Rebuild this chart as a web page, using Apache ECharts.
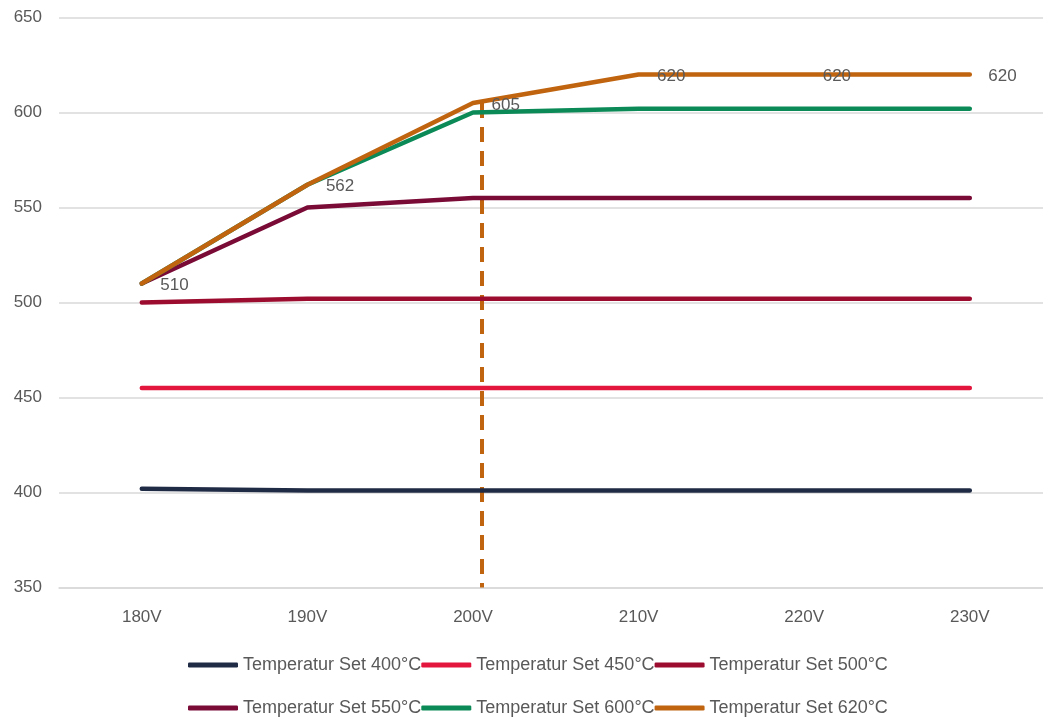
<!DOCTYPE html>
<html>
<head>
<meta charset="utf-8">
<script src="https://cdn.jsdelivr.net/npm/echarts@6/dist/echarts.min.js"></script>
<style>html,body{margin:0;padding:0;background:#fff;}#c{width:1043px;height:719px;}</style>
</head>
<body>
<div id="c"></div>
<script>
var categories = ['180V', '190V', '200V', '210V', '220V', '230V'];
var seriesNames = ['Temperatur Set 400°C', 'Temperatur Set 450°C', 'Temperatur Set 500°C', 'Temperatur Set 550°C', 'Temperatur Set 600°C', 'Temperatur Set 620°C'];
var set400 = [402, 401, 401, 401, 401, 401];
var set450 = [455, 455, 455, 455, 455, 455];
var set500 = [500, 502, 502, 502, 502, 502];
var set550 = [510, 550, 555, 555, 555, 555];
var set600 = [510, 562, 600, 602, 602, 602];
var set620 = [510, 562, 605, 620, 620, 620];
var markerPosition = 2.05;
var markerTop = 605;
var yMin = 350, yMax = 650, yStep = 50;

var colors = ['#1f2a44', '#e3173e', '#9c0c2e', '#7a0b36', '#0b8a57', '#c0640f'];
var allData = [set400, set450, set500, set550, set600, set620];
var font = 'Liberation Sans';
var gray = '#595959';
var catIdx = categories.map(function (c, i) { return i; });

var series = allData.map(function (d, i) {
  var s = {
    name: seriesNames[i],
    type: 'line',
    data: d.map(function (v, j) { return [catIdx[j], v]; }),
    symbol: 'circle',
    symbolSize: 1,
    z: 2 + i,
    lineStyle: { color: colors[i], width: 4.5, cap: 'round', join: 'round' },
    itemStyle: { color: colors[i], opacity: 0 }
  };
  if (i === 5) {
    s.label = {
      show: true, position: 'right', distance: 18, opacity: 1, offset: [0, 2],
      color: gray, fontFamily: font, fontSize: 17,
      formatter: function (p) { return p.value[1]; }
    };
    s.markLine = {
      silent: true, symbol: 'none', z: 1,
      label: { show: false },
      lineStyle: { color: '#c0640f', width: 4, type: [15, 9] },
      data: [[{ coord: [markerPosition, markerTop] }, { coord: [markerPosition, yMin] }]]
    };
  }
  return s;
});

function legendCfg(names, top) {
  return {
    data: names,
    left: 188, top: top, padding: 0,
    orient: 'horizontal',
    itemWidth: 50, itemHeight: 5, itemGap: 0,
    icon: 'roundRect',
    itemStyle: { opacity: 1 },
    textStyle: { color: gray, fontFamily: font, fontSize: 18 }
  };
}

var chart = echarts.init(document.getElementById('c'), null, { renderer: 'canvas' });
chart.setOption({
  animation: false,
  backgroundColor: '#ffffff',
  grid: { left: 59, top: 17.5, width: 984, height: 570, containLabel: false },
  legend: [legendCfg(seriesNames.slice(0, 3), 656), legendCfg(seriesNames.slice(3), 699)],
  xAxis: {
    type: 'value', min: -0.5, max: 5.442,
    splitLine: { show: false },
    axisLine: { show: true, onZero: false, lineStyle: { color: '#d9d9d9', width: 1.5 } },
    axisTick: { show: false },
    axisLabel: {
      color: gray, fontFamily: font, fontSize: 17, margin: 21,
      customValues: catIdx,
      formatter: function (v) { return categories[Math.round(v)]; }
    }
  },
  yAxis: {
    type: 'value', min: yMin, max: yMax, interval: yStep,
    axisLine: { show: false }, axisTick: { show: false },
    splitLine: { lineStyle: { color: '#d9d9d9', width: 1.5 } },
    axisLabel: { color: gray, fontFamily: font, fontSize: 17, margin: 17 }
  },
  series: series
});
</script>
</body>
</html>
